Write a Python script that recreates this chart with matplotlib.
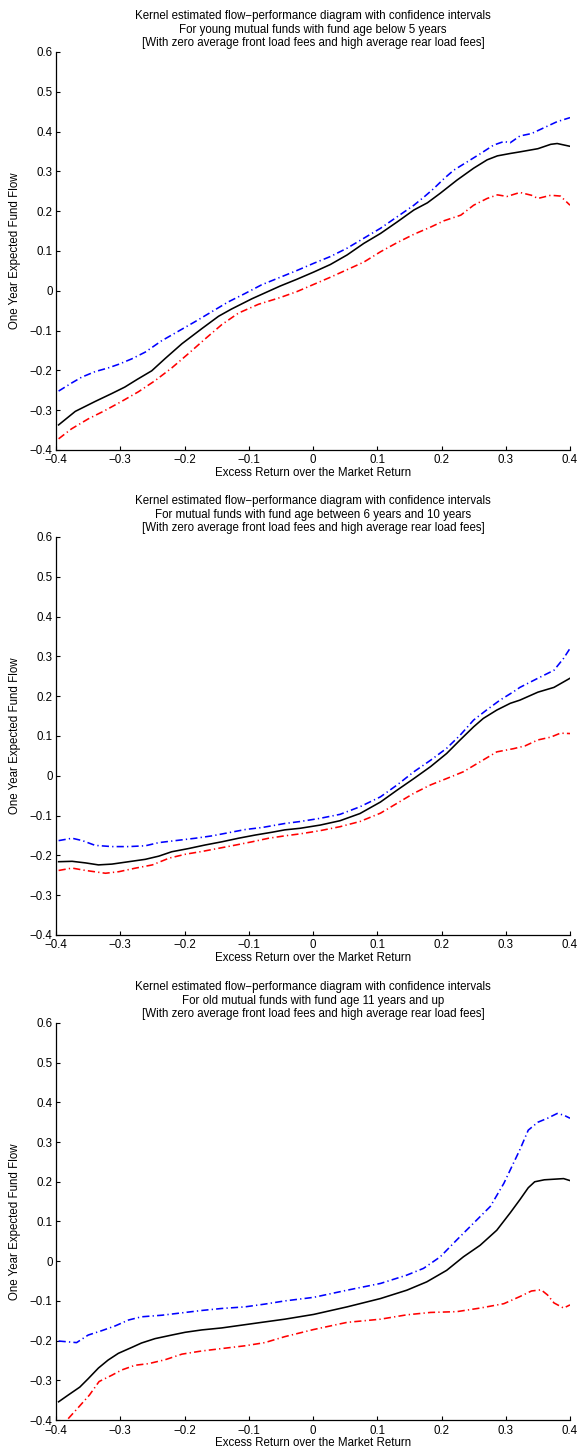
import matplotlib
matplotlib.use("Agg")
import matplotlib.pyplot as plt
from matplotlib.ticker import FixedLocator, FuncFormatter

plt.rcParams["font.family"] = ["Liberation Sans", "DejaVu Sans"]
plt.rcParams["font.size"] = 8.3

# --- flow-performance estimates: young funds (age below 5 years) ---
young_x_mid = [-0.396, -0.37, -0.339, -0.313, -0.293, -0.274, -0.251, -0.23, -0.204, -0.173,
               -0.147, -0.127, -0.095, -0.051, -0.025, 0.001, 0.027, 0.053, 0.079, 0.105,
               0.131, 0.157, 0.178, 0.198, 0.224, 0.25, 0.271, 0.287, 0.307, 0.322,
               0.35, 0.37, 0.38, 0.4]
young_mid = [-0.337, -0.303, -0.278, -0.258, -0.242, -0.223, -0.201, -0.17, -0.133, -0.095,
             -0.064, -0.046, -0.02, 0.012, 0.029, 0.047, 0.066, 0.090, 0.119, 0.144,
             0.173, 0.203, 0.221, 0.245, 0.278, 0.308, 0.329, 0.339, 0.345, 0.349,
             0.357, 0.368, 0.37, 0.363]
young_x_hi = [-0.396, -0.376, -0.36, -0.339, -0.319, -0.303, -0.282, -0.261, -0.236, -0.21,
              -0.184, -0.158, -0.132, -0.106, -0.08, -0.051, -0.025, 0.001, 0.027, 0.053,
              0.079, 0.105, 0.131, 0.157, 0.173, 0.188, 0.204, 0.219, 0.24, 0.261,
              0.281, 0.297, 0.307, 0.322, 0.34, 0.36, 0.38, 0.4]
young_hi = [-0.252, -0.232, -0.217, -0.203, -0.194, -0.185, -0.171, -0.154, -0.126, -0.102,
            -0.078, -0.053, -0.028, -0.007, 0.015, 0.034, 0.051, 0.069, 0.086, 0.107,
            0.132, 0.157, 0.186, 0.215, 0.236, 0.257, 0.282, 0.303, 0.324, 0.345,
            0.366, 0.375, 0.372, 0.389, 0.395, 0.41, 0.425, 0.435]
young_x_lo = [-0.396, -0.376, -0.35, -0.324, -0.298, -0.272, -0.246, -0.22, -0.194, -0.168,
              -0.142, -0.116, -0.085, -0.051, -0.025, 0.001, 0.027, 0.053, 0.079, 0.105,
              0.131, 0.157, 0.183, 0.204, 0.23, 0.25, 0.271, 0.287, 0.302, 0.322,
              0.34, 0.35, 0.37, 0.385, 0.4]
young_lo = [-0.372, -0.347, -0.322, -0.301, -0.278, -0.254, -0.226, -0.194, -0.158, -0.121,
            -0.085, -0.056, -0.034, -0.017, -0.002, 0.016, 0.034, 0.053, 0.072, 0.098,
            0.121, 0.142, 0.16, 0.176, 0.19, 0.215, 0.232, 0.241, 0.237, 0.247,
            0.24, 0.232, 0.24, 0.238, 0.215]

# --- funds aged between 6 and 10 years ---
mid_x_mid = [-0.396, -0.375, -0.354, -0.334, -0.313, -0.287, -0.261, -0.24, -0.22, -0.194,
             -0.168, -0.142, -0.116, -0.09, -0.064, -0.044, -0.02, 0.011, 0.042, 0.073,
             0.105, 0.131, 0.157, 0.183, 0.208, 0.229, 0.25, 0.265, 0.286, 0.307,
             0.322, 0.35, 0.375, 0.4]
mid_mid = [-0.216, -0.215, -0.219, -0.224, -0.222, -0.216, -0.21, -0.202, -0.191, -0.183,
           -0.174, -0.166, -0.157, -0.149, -0.142, -0.136, -0.132, -0.124, -0.113, -0.095,
           -0.066, -0.036, -0.007, 0.023, 0.056, 0.09, 0.123, 0.144, 0.165, 0.182,
           0.19, 0.21, 0.222, 0.245]
mid_x_hi = [-0.396, -0.375, -0.359, -0.339, -0.313, -0.287, -0.261, -0.24, -0.209, -0.183,
            -0.157, -0.131, -0.105, -0.079, -0.044, -0.02, 0.011, 0.042, 0.073, 0.105,
            0.131, 0.157, 0.183, 0.208, 0.229, 0.25, 0.27, 0.291, 0.312, 0.322,
            0.35, 0.375, 0.39, 0.4]
mid_hi = [-0.163, -0.157, -0.163, -0.175, -0.178, -0.178, -0.176, -0.168, -0.162, -0.157,
          -0.151, -0.143, -0.135, -0.13, -0.12, -0.115, -0.107, -0.097, -0.078, -0.053,
          -0.023, 0.01, 0.039, 0.069, 0.102, 0.14, 0.165, 0.19, 0.211, 0.222,
          0.245, 0.265, 0.295, 0.32]
mid_x_lo = [-0.396, -0.375, -0.354, -0.323, -0.302, -0.276, -0.25, -0.224, -0.198, -0.172,
            -0.146, -0.12, -0.095, -0.069, -0.044, -0.02, 0.011, 0.042, 0.073, 0.105,
            0.131, 0.157, 0.183, 0.208, 0.234, 0.26, 0.286, 0.312, 0.33, 0.35,
            0.37, 0.385, 0.4]
mid_lo = [-0.238, -0.232, -0.238, -0.245, -0.241, -0.232, -0.224, -0.207, -0.197, -0.19,
          -0.182, -0.174, -0.166, -0.157, -0.151, -0.146, -0.138, -0.128, -0.115, -0.094,
          -0.069, -0.044, -0.023, -0.007, 0.01, 0.035, 0.06, 0.068, 0.075, 0.09,
          0.097, 0.107, 0.106]

# --- old funds (age 11 years and up) ---
old_x_mid = [-0.396, -0.381, -0.363, -0.35, -0.334, -0.319, -0.303, -0.282, -0.267, -0.246,
             -0.22, -0.199, -0.173, -0.142, -0.111, -0.08, -0.044, 0.001, 0.053, 0.105,
             0.146, 0.177, 0.208, 0.234, 0.26, 0.286, 0.307, 0.322, 0.335, 0.345,
             0.36, 0.38, 0.39, 0.4]
old_mid = [-0.354, -0.337, -0.317, -0.296, -0.269, -0.249, -0.232, -0.217, -0.206, -0.195,
           -0.186, -0.179, -0.173, -0.168, -0.161, -0.154, -0.146, -0.134, -0.115, -0.094,
           -0.073, -0.052, -0.023, 0.011, 0.04, 0.078, 0.122, 0.155, 0.185, 0.2,
           0.205, 0.207, 0.208, 0.203]
old_x_hi = [-0.396, -0.368, -0.35, -0.329, -0.308, -0.287, -0.267, -0.235, -0.204, -0.173,
            -0.142, -0.106, -0.075, -0.044, 0.001, 0.053, 0.105, 0.146, 0.172, 0.198,
            0.224, 0.25, 0.276, 0.297, 0.312, 0.322, 0.335, 0.35, 0.365, 0.38,
            0.39, 0.4]
old_hi = [-0.201, -0.205, -0.186, -0.175, -0.163, -0.148, -0.14, -0.136, -0.13, -0.124,
          -0.119, -0.115, -0.108, -0.1, -0.091, -0.073, -0.056, -0.035, -0.018, 0.011,
          0.054, 0.096, 0.138, 0.196, 0.247, 0.281, 0.33, 0.35, 0.36, 0.372,
          0.368, 0.36]
old_x_lo = [-0.396, -0.383, -0.364, -0.348, -0.333, -0.313, -0.298, -0.277, -0.256, -0.23,
            -0.204, -0.173, -0.142, -0.106, -0.075, -0.044, 0.001, 0.053, 0.105, 0.146,
            0.183, 0.224, 0.26, 0.297, 0.322, 0.34, 0.355, 0.365, 0.375, 0.39,
            0.4]
old_lo = [-0.425, -0.4, -0.366, -0.337, -0.303, -0.287, -0.274, -0.262, -0.258, -0.248,
          -0.234, -0.226, -0.22, -0.213, -0.205, -0.19, -0.172, -0.154, -0.146, -0.135,
          -0.129, -0.127, -0.118, -0.107, -0.089, -0.075, -0.072, -0.085, -0.105, -0.118,
          -0.11]

titles = [
    "Kernel estimated flow\u2212performance diagram with confidence intervals\n"
    "For young mutual funds with fund age below 5 years\n"
    "[With zero average front load fees and high average rear load fees]",
    "Kernel estimated flow\u2212performance diagram with confidence intervals\n"
    "For mutual funds with fund age between 6 years and 10 years\n"
    "[With zero average front load fees and high average rear load fees]",
    "Kernel estimated flow\u2212performance diagram with confidence intervals\n"
    "For old mutual funds with fund age 11 years and up\n"
    "[With zero average front load fees and high average rear load fees]",
]

panels = [
    (young_x_mid, young_mid, young_x_hi, young_hi, young_x_lo, young_lo),
    (mid_x_mid, mid_mid, mid_x_hi, mid_hi, mid_x_lo, mid_lo),
    (old_x_mid, old_mid, old_x_hi, old_hi, old_x_lo, old_lo),
]

x_ticks = [-0.4, -0.3, -0.2, -0.1, 0, 0.1, 0.2, 0.3, 0.4]
y_ticks = [-0.4, -0.3, -0.2, -0.1, 0, 0.1, 0.2, 0.3, 0.4, 0.5, 0.6]


def tick_fmt(v, pos):
    s = f"{v:.1f}".rstrip("0").rstrip(".")
    if s in ("-0", ""):
        s = "0"
    return s.replace("-", "\u2212")


fig = plt.figure(figsize=(5.8, 14.52), dpi=100)
# axes boxes in figure fraction: [left, bottom, width, height]
boxes = [
    [0.0966, 0.6901, 0.8862, 0.2741],
    [0.0966, 0.3561, 0.8862, 0.2741],
    [0.0966, 0.0220, 0.8862, 0.2735],
]
dash_dot = (0, (4.5, 2.0, 0.8, 2.0))

for box, title, (xm, ym, xh, yh, xl, yl) in zip(boxes, titles, panels):
    ax = fig.add_axes(box)
    ax.plot(xh, yh, color="blue", lw=1.15, linestyle=dash_dot)
    ax.plot(xl, yl, color="red", lw=1.15, linestyle=dash_dot)
    ax.plot(xm, ym, color="black", lw=1.15)

    ax.set_xlim(-0.4, 0.4)
    ax.set_ylim(-0.4, 0.6)
    ax.xaxis.set_major_locator(FixedLocator(x_ticks))
    ax.yaxis.set_major_locator(FixedLocator(y_ticks))
    ax.xaxis.set_major_formatter(FuncFormatter(tick_fmt))
    ax.yaxis.set_major_formatter(FuncFormatter(tick_fmt))
    ax.tick_params(direction="in", length=3, width=0.8, labelsize=8.3)
    ax.tick_params(axis="x", pad=3.2)
    ax.tick_params(axis="y", pad=2.5)

    for side in ("top", "right"):
        ax.spines[side].set_visible(False)
    for side in ("left", "bottom"):
        ax.spines[side].set_linewidth(0.9)

    ax.set_title(title, fontsize=8.3, pad=4, linespacing=1.2)
    ax.set_xlabel("Excess Return over the Market Return", fontsize=8.3, labelpad=0.5)
    ax.set_ylabel("One Year Expected Fund Flow", fontsize=8.3)
    ax.yaxis.set_label_coords(-0.068, 0.5)

fig.savefig("out.png", dpi=100)
